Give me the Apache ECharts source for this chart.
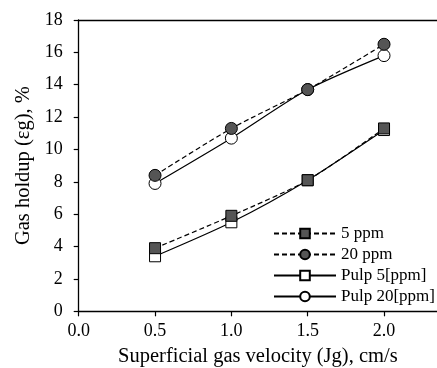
<!DOCTYPE html>
<html>
<head>
<meta charset="utf-8">
<script src="https://cdn.jsdelivr.net/npm/echarts@6/dist/echarts.min.js"></script>
<style>html,body{margin:0;padding:0;background:#fff}#c{width:437px;height:368px}</style>
</head>
<body>
<div id="c"></div>
<script>
const xValues = [0.5, 1.0, 1.5, 2.0];
const ppm5 = [3.9, 5.9, 8.1, 11.3];
const ppm20 = [8.4, 11.3, 13.7, 16.5];
const pulp5 = [3.4, 5.5, 8.1, 11.2];
const pulp20 = [7.9, 10.7, 13.7, 15.8];
const seriesNames = ['5 ppm', '20 ppm', 'Pulp 5[ppm]', 'Pulp 20[ppm]'];
const xTitle = 'Superficial gas velocity (Jg), cm/s';
const yTitle = 'Gas holdup (εg), %';

const font = 'Liberation Serif';
function pairs(arr){ return xValues.map((x,i)=>[x, arr[i]]); }
function mk(name, data, symbol, filled, dashed){
  return {
    name, type:'line', data: pairs(data), symbol, symbolSize: symbol==='circle'?12:11, smooth: 0.25,
    lineStyle:{color:'#000', width:1.2, type: dashed ? [5,3] : 'solid'},
    itemStyle:{color: filled ? '#555555' : '#ffffff', borderColor:'#000', borderWidth:1},
    emphasis:{disabled:true}, z: filled ? 3 : 2
  };
}
const chart = echarts.init(document.getElementById('c'));
chart.setOption({
  animation:false,
  backgroundColor:'#fff',
  textStyle:{fontFamily:font},
  grid:{left:78.7, top:20, right:0, bottom:368-311.3, containLabel:false, outerBoundsMode:'none'},
  legend:{
    orient:'vertical', left:268, top:220, itemWidth:62, itemHeight:12, itemGap:4,
    textStyle:{fontFamily:font, fontSize:17, color:'#000', lineHeight:17},
    data: seriesNames
  },
  xAxis:[{
    type:'value', min:0, max:2.347, interval:0.5,
    name:xTitle, nameLocation:'middle', nameGap:35,
    nameTextStyle:{fontFamily:font, fontSize:20.5, color:'#000'},
    axisLine:{lineStyle:{color:'#000', width:1.3}},
    axisTick:{length:5, lineStyle:{color:'#000', width:1.2}},
    axisLabel:{fontFamily:font, fontSize:18, color:'#000', margin:11, showMaxLabel:false,
      formatter:v=> (Math.abs(v*2-Math.round(v*2))<1e-6 ? v.toFixed(1) : '')},
    splitLine:{show:false}
  },{
    type:'value', position:'top', min:0, max:2.347,
    axisLine:{show:true, lineStyle:{color:'#000', width:1.3}},
    axisTick:{show:false}, axisLabel:{show:false}, splitLine:{show:false}
  }],
  yAxis:{
    type:'value', min:0, max:18, interval:2,
    name:yTitle, nameLocation:'middle', nameGap:43, nameRotate:90,
    nameTextStyle:{fontFamily:font, fontSize:20.5, color:'#000'},
    axisLine:{show:true, lineStyle:{color:'#000', width:1.3}},
    axisTick:{show:true, length:5, lineStyle:{color:'#000', width:1.2}},
    axisLabel:{fontFamily:font, fontSize:18, color:'#000', margin:16},
    splitLine:{show:false}
  },
  series:[
    mk(seriesNames[0], ppm5, 'rect', true, true),
    mk(seriesNames[1], ppm20, 'circle', true, true),
    mk(seriesNames[2], pulp5, 'rect', false, false),
    mk(seriesNames[3], pulp20, 'circle', false, false)
  ]
});
</script>
</body>
</html>
